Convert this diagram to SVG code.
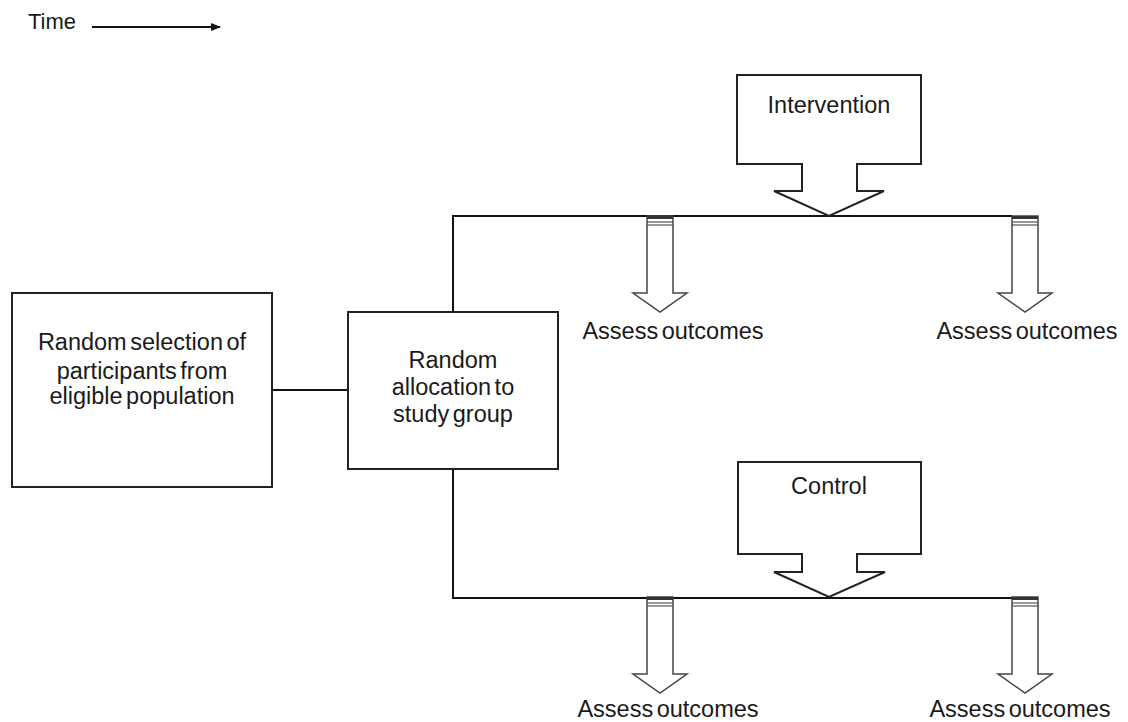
<svg xmlns="http://www.w3.org/2000/svg" width="1128" height="722" viewBox="0 0 1128 722">
<style>
text{font-family:"Liberation Sans",Arial,sans-serif;font-size:23.5px;fill:#1a1a1a;text-anchor:middle;word-spacing:-3px}
.box{fill:#fff;stroke:#222;stroke-width:2}
.ln{fill:none;stroke:#111;stroke-width:2}
.arr{fill:#fff;stroke:#444;stroke-width:1.5}
.cap{stroke:#555;stroke-width:1.2}
</style>
<defs>
<marker id="ah" markerWidth="10" markerHeight="8" refX="9" refY="4" orient="auto" markerUnits="userSpaceOnUse">
<path d="M0,0 L10,4 L0,8 Z" fill="#111"/>
</marker>
<g id="assessArrow">
<path class="arr" d="M-13,0 L13,0 L13,77 L27,77 L0,96 L-27,77 L-13,77 Z"/>
<rect x="-13" y="0" width="26" height="3" fill="#333"/>
<line class="cap" x1="-13" y1="6" x2="13" y2="6"/>
<line class="cap" x1="-13" y1="9" x2="13" y2="9"/>
</g>
</defs>
<g id="time">
<text x="52" y="29" style="font-size:22px">Time</text>
<line class="ln" x1="92" y1="27" x2="220" y2="27" stroke-width="1.5" marker-end="url(#ah)"/>
</g>
<g id="connectors">
<line class="ln" x1="272" y1="390" x2="348" y2="390"/>
<polyline class="ln" points="453,312 453,216 1012,216"/>
<polyline class="ln" points="453,469 453,598 1012,598"/>
</g>
<g id="selection">
<rect class="box" x="12" y="293" width="260" height="194"/>
<text x="142" y="350">Random selection of</text>
<text x="142" y="379">participants from</text>
<text x="142" y="404">eligible population</text>
</g>
<g id="allocation">
<rect class="box" x="348" y="312" width="210" height="157"/>
<text x="453" y="368">Random</text>
<text x="453" y="395">allocation to</text>
<text x="453" y="422">study group</text>
</g>
<g id="intervention">
<path class="box" stroke-width="1.5" d="M737,75 L921,75 L921,164 L857,164 L857,191 L884,191 L829,216 L774,191 L802,191 L802,164 L737,164 Z"/>
<text x="829" y="113">Intervention</text>
</g>
<g id="control">
<path class="box" stroke-width="1.5" d="M738,462 L921,462 L921,554 L857,554 L857,572 L885,572 L829,597 L774,572 L802,572 L802,554 L738,554 Z"/>
<text x="829" y="494">Control</text>
</g>
<g id="assess1">
<use href="#assessArrow" x="660" y="216"/>
<text x="673" y="339">Assess outcomes</text>
</g>
<g id="assess2">
<use href="#assessArrow" x="1025" y="216"/>
<text x="1027" y="339">Assess outcomes</text>
</g>
<g id="assess3">
<use href="#assessArrow" x="660" y="597"/>
<text x="668" y="717">Assess outcomes</text>
</g>
<g id="assess4">
<use href="#assessArrow" x="1025" y="597"/>
<text x="1020" y="717">Assess outcomes</text>
</g>
</svg>
